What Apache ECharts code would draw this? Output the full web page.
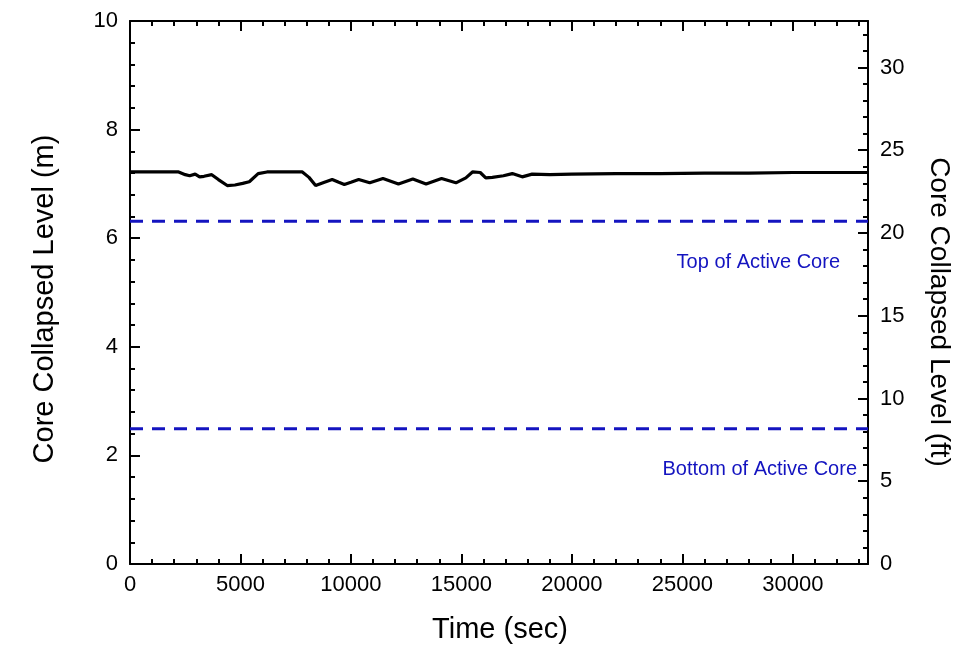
<!DOCTYPE html>
<html>
<head>
<meta charset="utf-8">
<script src="https://cdn.jsdelivr.net/npm/echarts@6/dist/echarts.min.js"></script>
<style>html,body{margin:0;padding:0;background:#fff;}#c{width:979px;height:651px;}</style>
</head>
<body>
<div id="c"></div>
<script>
// ---- data ----
var timeSec = [0, 500, 1000, 1500, 2200, 2500, 2700, 2950, 3150, 3350, 3700, 4000, 4400, 4750, 5100, 5400, 5800, 6200, 7000, 7800, 8100, 8400, 8800, 9150, 9450, 9700, 10000, 10350, 10850, 11450, 12150, 12800, 13400, 14100, 14750, 15200, 15500, 15850, 16100, 16400, 16900, 17300, 17750, 18200, 19000, 20000, 22000, 24000, 26000, 28000, 30000, 33400];
var levelM = [7.22, 7.22, 7.22, 7.22, 7.22, 7.17, 7.15, 7.18, 7.13, 7.14, 7.17, 7.08, 6.97, 6.98, 7.01, 7.04, 7.19, 7.22, 7.22, 7.22, 7.12, 6.97, 7.03, 7.08, 7.03, 6.99, 7.03, 7.08, 7.02, 7.10, 7.00, 7.09, 7.00, 7.10, 7.02, 7.11, 7.22, 7.21, 7.11, 7.12, 7.15, 7.19, 7.13, 7.18, 7.17, 7.18, 7.19, 7.19, 7.20, 7.20, 7.21, 7.21];
var refLevelNames = ['Top of Active Core', 'Bottom of Active Core'];
var refLevelValues = [6.31, 2.49];
var xMin = 0, xMax = 33400;
var yMinM = 0, yMaxM = 10;
var M_TO_FT = 3.28084;

var font = '"Liberation Sans", Arial, sans-serif';
var chart = echarts.init(document.getElementById('c'));
var grid = {left: 130, right: 111, top: 21, bottom: 87};

function xAx(pos, interval, tickLen, showLabel, showLine) {
  return {
    type: 'value', position: pos, min: xMin, max: xMax, interval: interval,
    axisLine: {show: showLine, onZero: false, lineStyle: {color: '#000', width: 2}},
    axisTick: {show: true, inside: true, length: tickLen, lineStyle: {color: '#000', width: 2}},
    axisLabel: {show: showLabel, color: '#000', fontSize: 22, fontFamily: font, margin: 10,
      formatter: function (v) { return (v % 5000 === 0) ? String(v) : ''; }},
    splitLine: {show: false}
  };
}
function yAx(pos, min, max, interval, tickLen, showLabel, showLine) {
  return {
    type: 'value', position: pos, min: min, max: max, interval: interval,
    axisLine: {show: showLine, onZero: false, lineStyle: {color: '#000', width: 2}},
    axisTick: {show: true, inside: true, length: tickLen, lineStyle: {color: '#000', width: 2}},
    axisLabel: {show: showLabel, color: '#000', fontSize: 22, fontFamily: font, margin: 12,
      showMaxLabel: pos === 'left',
      formatter: function (v) { return (Math.abs(v - Math.round(v)) < 1e-6) ? String(Math.round(v)) : ''; }},
    splitLine: {show: false}
  };
}

var series = [{
  type: 'line', xAxisIndex: 0, yAxisIndex: 0, showSymbol: false, symbol: 'none',
  data: timeSec.map(function (t, i) { return [t, levelM[i]]; }),
  lineStyle: {color: '#000', width: 3.2}, z: 5
}];
refLevelValues.forEach(function (v) {
  series.push({
    type: 'line', xAxisIndex: 0, yAxisIndex: 0, showSymbol: false, symbol: 'none',
    data: [[xMin, v], [xMax, v]],
    lineStyle: {color: '#1414c0', width: 3, type: [13, 9]}, z: 4
  });
});

chart.setOption({
  animation: false,
  backgroundColor: '#fff',
  grid: grid,
  xAxis: [
    xAx('bottom', 5000, 10, true, true),
    xAx('bottom', 1000, 5, false, false),
    xAx('top', 5000, 10, false, true),
    xAx('top', 1000, 5, false, false)
  ],
  yAxis: [
    yAx('left', yMinM, yMaxM, 2, 10, true, true),
    yAx('left', yMinM, yMaxM, 0.4, 5, false, false),
    yAx('right', yMinM * M_TO_FT, yMaxM * M_TO_FT, 5, 10, true, true),
    yAx('right', yMinM * M_TO_FT, yMaxM * M_TO_FT, 1, 5, false, false)
  ],
  series: series
});

var gfx = [
  {type: 'text', x: 500, y: 630, style: {text: 'Time (sec)', font: '29px ' + font, fill: '#000', align: 'center', verticalAlign: 'middle'}},
  {type: 'text', x: 45, y: 299, rotation: Math.PI / 2, style: {text: 'Core Collapsed Level (m)', font: '29px ' + font, fill: '#000', align: 'center', verticalAlign: 'middle'}},
  {type: 'text', x: 939, y: 312, rotation: -Math.PI / 2, style: {text: 'Core Collapsed Level (ft)', font: '28px ' + font, fill: '#000', align: 'center', verticalAlign: 'middle'}}
];
var rightEdges = [840, 857];
refLevelValues.forEach(function (v, i) {
  var p = chart.convertToPixel({xAxisIndex: 0, yAxisIndex: 0}, [xMax, v]);
  gfx.push({type: 'text', x: rightEdges[i], y: p[1] + 41,
    style: {text: refLevelNames[i], font: '20px ' + font, fill: '#1414c0', align: 'right', verticalAlign: 'middle'}});
});
chart.setOption({graphic: gfx});
</script>
</body>
</html>
